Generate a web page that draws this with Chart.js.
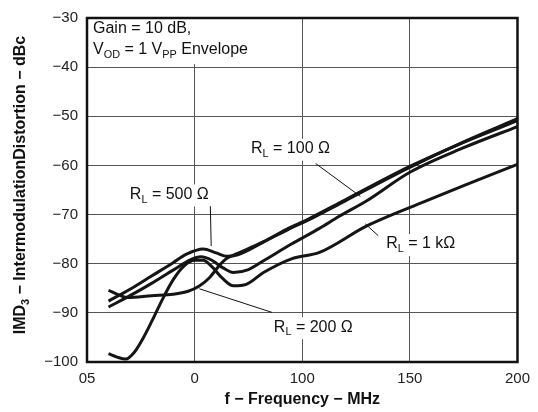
<!DOCTYPE html>
<html>
<head>
<meta charset="utf-8">
<script src="https://cdn.jsdelivr.net/npm/chart.js@4"></script>
<style>html,body{margin:0;background:#fff}</style>
</head>
<body>
<canvas id="myChart" width="538" height="412"></canvas>
<script>
// values (f in MHz, IMD3 in dBc)
let f100 = [10, 20, 30, 40, 48, 53, 58, 63, 68, 75, 82, 95, 108, 117, 130, 150, 175, 200];
let db100 = [-88.8, -86.5, -84, -81.3, -79.2, -78.6, -79.3, -80.8, -81.8, -81.2, -79.4, -76.0, -72.8, -70.4, -67.2, -61.4, -56.4, -52.1];

let f200 = [10, 15, 19, 30, 40, 47, 52, 57, 61, 65, 70, 82, 94, 102, 120, 149, 175, 200];
let db200 = [-85.4, -86.4, -86.9, -86.5, -86.2, -85.6, -84.6, -82.8, -80.6, -78.9, -77.9, -75.5, -72.7, -71.1, -67.0, -60.4, -55.3, -50.9];

let f500 = [10, 20, 30, 40, 46, 54, 60, 65, 70, 82, 94, 102, 120, 149, 175, 200];
let db500 = [-87.6, -85.2, -82.5, -79.8, -78.1, -77.0, -77.8, -78.5, -78.2, -75.6, -72.9, -71.3, -67.2, -60.6, -55.2, -50.5];

let f1k = [10, 14, 18, 22, 26, 30, 35, 40, 45, 50, 54, 58, 63, 68, 74, 82, 95, 108, 130, 157, 175, 200];
let db1k = [-98.3, -99.0, -99.4, -98.0, -95.2, -91.8, -87.3, -83.3, -80.5, -79.3, -79.3, -80.6, -83.0, -84.5, -84.2, -81.8, -79.0, -77.7, -72.3, -67.3, -64.1, -59.8];

let xTickLabels = ['05', '0', '100', '150', '200'];
let yTickLabels = ['\u2212100', '\u221290', '\u221280', '\u221270', '\u221260', '\u221250', '\u221240', '\u221230'];

const FONT = '"Liberation Sans", Arial, sans-serif';

function pts(xs, ys) {
    return xs.map((x, i) => ({x: x, y: ys[i]}));
}

// text with subscripts: parts = [[text, isSub], ...]
function rich(ctx, parts, x, y, size, bold) {
    let w = 0;
    parts.forEach(p => {
        ctx.font = (bold ? 'bold ' : '') + (p[1] ? size * 0.68 : size) + 'px ' + FONT;
        ctx.fillText(p[0], x + w, y + (p[1] ? size * 0.33 : 0));
        w += ctx.measureText(p[0]).width;
    });
    return w;
}
function richWidth(ctx, parts, size, bold) {
    let w = 0;
    parts.forEach(p => {
        ctx.font = (bold ? 'bold ' : '') + (p[1] ? size * 0.68 : size) + 'px ' + FONT;
        w += ctx.measureText(p[0]).width;
    });
    return w;
}

const notes = [
    {x: 76.2, y: -56.6, parts: [['R'], ['L', 1], [' = 100 \u03A9']], lead: [106.2, -59.6, 127, -66.3]},
    {x: 19.9, y: -65.9, parts: [['R'], ['L', 1], [' = 500 \u03A9']], lead: [57.3, -68.3, 57.7, -76.4]},
    {x: 139, y: -76.0, parts: [['R'], ['L', 1], [' = 1 k\u03A9']], lead: [129.3, -71.9, 135.3, -74.3]},
    {x: 86.8, y: -92.9, parts: [['R'], ['L', 1], [' = 200 \u03A9']], lead: [52.2, -85.1, 85.9, -89.9]}
];

const decor = {
    id: 'decor',
    afterDatasetsDraw(chart) {
        const ctx = chart.ctx, xs = chart.scales.x, ys = chart.scales.y, a = chart.chartArea;
        ctx.save();
        ctx.textBaseline = 'middle';
        ctx.textAlign = 'left';

        // condition box, top left
        ctx.fillStyle = '#fff';
        ctx.fillRect(a.left + 1, a.top + 1, xs.getPixelForValue(90) - a.left, ys.getPixelForValue(-39.2) - a.top);
        ctx.fillStyle = '#111';
        rich(ctx, [['Gain = 10 dB,']], xs.getPixelForValue(2.8), ys.getPixelForValue(-32.1), 16);
        rich(ctx, [['V'], ['OD', 1], [' = 1 V'], ['PP', 1], [' Envelope']], xs.getPixelForValue(2.8), ys.getPixelForValue(-36.4), 16);

        // curve labels and leader lines
        notes.forEach(n => {
            const px = xs.getPixelForValue(n.x), py = ys.getPixelForValue(n.y);
            const w = richWidth(ctx, n.parts, 16);
            ctx.fillStyle = '#fff';
            ctx.fillRect(px - 3, py - 10, w + 6, 22);
            ctx.fillStyle = '#111';
            rich(ctx, n.parts, px, py, 16);
            ctx.strokeStyle = '#111';
            ctx.lineWidth = 1;
            ctx.beginPath();
            ctx.moveTo(xs.getPixelForValue(n.lead[0]), ys.getPixelForValue(n.lead[1]));
            ctx.lineTo(xs.getPixelForValue(n.lead[2]), ys.getPixelForValue(n.lead[3]));
            ctx.stroke();
        });

        // plot frame
        ctx.strokeStyle = '#111';
        ctx.lineWidth = 2.5;
        ctx.strokeRect(a.left, a.top, a.right - a.left, a.bottom - a.top);

        // axis titles
        ctx.fillStyle = '#111';
        ctx.textAlign = 'left';
        const xt = [['f \u2212 Frequency \u2212 MHz']];
        const xw = richWidth(ctx, xt, 16, true);
        rich(ctx, xt, (a.left + a.right) / 2 - xw / 2, 400, 16, true);

        const yt = [['IMD'], ['3', 1], [' \u2212 IntermodulationDistortion \u2212 dBc']];
        const yw = richWidth(ctx, yt, 16, true);
        ctx.translate(21, (a.top + a.bottom) / 2 - 5);
        ctx.rotate(-Math.PI / 2);
        rich(ctx, yt, -yw / 2, 0, 16, true);
        ctx.restore();
    }
};

const lineStyle = {
    borderColor: '#151515',
    borderWidth: 3,
    pointRadius: 0,
    fill: false,
    cubicInterpolationMode: 'monotone'
};

let myChart = new Chart(document.getElementById('myChart').getContext('2d'), {
    type: 'line',
    data: {
        datasets: [
            Object.assign({label: 'RL = 100', data: pts(f100, db100)}, lineStyle),
            Object.assign({label: 'RL = 200', data: pts(f200, db200)}, lineStyle),
            Object.assign({label: 'RL = 500', data: pts(f500, db500)}, lineStyle),
            Object.assign({label: 'RL = 1k', data: pts(f1k, db1k)}, lineStyle)
        ]
    },
    options: {
        responsive: false,
        animation: false,
        devicePixelRatio: 1,
        layout: {padding: {top: 15, right: 19, left: 0, bottom: 0}},
        plugins: {legend: {display: false}, tooltip: {enabled: false}},
        scales: {
            x: {
                type: 'linear',
                min: 0,
                max: 200,
                afterFit: s => { s.height = 50; },
                grid: {color: '#555', lineWidth: 1, drawTicks: false},
                border: {display: false},
                ticks: {
                    stepSize: 50,
                    padding: 8,
                    color: '#222',
                    font: {family: FONT, size: 15},
                    maxRotation: 0,
                    callback: (v, i) => xTickLabels[i]
                }
            },
            y: {
                min: -100,
                max: -30,
                afterFit: s => { s.width = 87; },
                grid: {color: '#555', lineWidth: 1, drawTicks: false},
                border: {display: false},
                ticks: {
                    stepSize: 10,
                    padding: 9,
                    color: '#222',
                    font: {family: FONT, size: 15},
                    callback: (v, i) => yTickLabels[i]
                }
            }
        }
    },
    plugins: [decor]
});
</script>
</body>
</html>
